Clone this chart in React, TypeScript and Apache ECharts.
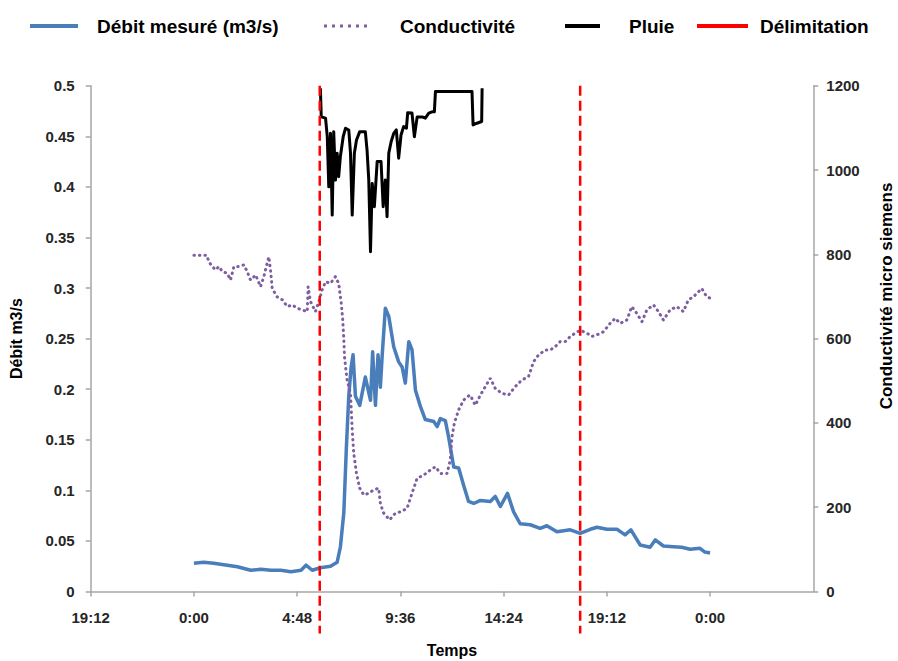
import React, { useEffect, useRef } from "react";
import * as echarts from "echarts";

// Time in hours from 0:00 of the first day
const xTickLabels = ["19:12", "0:00", "4:48", "9:36", "14:24", "19:12", "0:00", "4:48"];

const debit: [number, number][] = [
  [0.0, 0.028], [0.45, 0.029], [0.92, 0.028], [1.55, 0.026], [2.02, 0.0245], [2.64, 0.021],
  [3.11, 0.022], [3.58, 0.021], [4.04, 0.021], [4.51, 0.0196], [4.98, 0.021], [5.21, 0.026],
  [5.5, 0.021], [5.88, 0.0235], [6.35, 0.025], [6.66, 0.029], [6.81, 0.044], [6.97, 0.078],
  [7.09, 0.143], [7.2, 0.193], [7.31, 0.222], [7.4, 0.234], [7.51, 0.193], [7.71, 0.184],
  [7.97, 0.212], [8.21, 0.189], [8.31, 0.237], [8.44, 0.184], [8.56, 0.234], [8.67, 0.202],
  [8.75, 0.232], [8.9, 0.28], [9.06, 0.272], [9.29, 0.242], [9.52, 0.227], [9.68, 0.222],
  [9.83, 0.206], [9.99, 0.247], [10.14, 0.239], [10.3, 0.199], [10.53, 0.183], [10.76, 0.17],
  [11.15, 0.168], [11.31, 0.163], [11.46, 0.171], [11.69, 0.169], [11.84, 0.153], [12.08, 0.123],
  [12.31, 0.122], [12.54, 0.105], [12.77, 0.089], [13.01, 0.087], [13.32, 0.09], [13.78, 0.089],
  [14.01, 0.094], [14.25, 0.084], [14.58, 0.097], [14.86, 0.079], [15.17, 0.067], [15.64, 0.066],
  [16.1, 0.0625], [16.41, 0.065], [16.88, 0.059], [17.5, 0.061], [17.96, 0.0575], [18.43, 0.0615],
  [18.74, 0.0635], [19.2, 0.0615], [19.67, 0.0615], [20.05, 0.056], [20.32, 0.061], [20.75, 0.046],
  [21.21, 0.0437], [21.45, 0.051], [21.83, 0.045], [22.29, 0.0443], [22.68, 0.0437], [23.07, 0.0417],
  [23.53, 0.0427], [23.76, 0.039], [24.0, 0.038],
];

const conductivite: [number, number][] = [
  [0.0, 798], [0.59, 798], [0.7, 782], [0.85, 771], [1.01, 763], [1.16, 771], [1.32, 759],
  [1.55, 755], [1.7, 739], [1.86, 771], [2.09, 771], [2.32, 775], [2.48, 759], [2.63, 739],
  [2.87, 751], [3.1, 723], [3.25, 747], [3.48, 794], [3.56, 763], [3.64, 719], [3.87, 699],
  [4.11, 692], [4.34, 676], [4.57, 680], [4.8, 672], [5.03, 668], [5.27, 664], [5.31, 723],
  [5.42, 688], [5.65, 664], [5.81, 688], [5.96, 715], [6.12, 735], [6.35, 731], [6.58, 747],
  [6.73, 731], [6.85, 684], [6.92, 644], [6.97, 597], [7.0, 557], [7.12, 502], [7.28, 470],
  [7.36, 383], [7.43, 328], [7.56, 280], [7.71, 245], [7.9, 229], [8.13, 233], [8.36, 241],
  [8.59, 245], [8.67, 209], [8.82, 186], [9.1, 170], [9.37, 186], [9.6, 189], [9.91, 197],
  [10.14, 233], [10.38, 269], [10.68, 276], [10.99, 288], [11.23, 296], [11.46, 280], [11.77, 280],
  [11.92, 312], [12.0, 367], [12.11, 400], [12.31, 431], [12.54, 454], [12.7, 462], [12.85, 466],
  [13.08, 442], [13.32, 466], [13.55, 486], [13.78, 506], [14.01, 482], [14.32, 470], [14.63, 466],
  [14.94, 486], [15.25, 502], [15.56, 510], [15.79, 545], [16.02, 561], [16.34, 573], [16.57, 573],
  [16.8, 581], [17.03, 593], [17.27, 593], [17.5, 605], [17.73, 613], [17.96, 620], [18.27, 613],
  [18.5, 605], [18.74, 609], [19.04, 616], [19.35, 636], [19.59, 648], [19.82, 636], [20.13, 644],
  [20.36, 676], [20.59, 660], [20.83, 640], [21.06, 668], [21.37, 680], [21.6, 664], [21.83, 644],
  [22.14, 668], [22.45, 676], [22.76, 664], [22.99, 692], [23.22, 699], [23.46, 711], [23.61, 719],
  [23.85, 699], [24.0, 696],
];

const pluie: [number, number][] = [
  [5.88, 1194], [5.92, 1126], [6.12, 1123], [6.2, 1079], [6.27, 960], [6.35, 1087], [6.43, 893],
  [6.5, 1091], [6.58, 976], [6.66, 1040], [6.73, 984], [6.81, 1032], [6.94, 1079], [7.05, 1099],
  [7.2, 1095], [7.28, 1040], [7.36, 893], [7.46, 1040], [7.56, 1071], [7.71, 1091], [7.97, 1091],
  [8.05, 1047], [8.13, 976], [8.21, 806], [8.29, 968], [8.39, 913], [8.52, 1020], [8.7, 1020],
  [8.8, 913], [8.9, 976], [8.98, 889], [9.06, 1040], [9.17, 1067], [9.29, 1087], [9.41, 1095],
  [9.52, 1028], [9.63, 1083], [9.75, 1103], [9.88, 1099], [9.94, 1136], [10.14, 1135], [10.25, 1079],
  [10.38, 1126], [10.61, 1126], [10.76, 1123], [10.92, 1135], [11.07, 1138], [11.18, 1138],
  [11.23, 1186], [12.93, 1186], [12.98, 1107], [13.16, 1111], [13.38, 1115], [13.4, 1194],
];

const delimitationTimes = [5.85, 17.96];

export default function App() {
  const ref = useRef<HTMLDivElement>(null);
  useEffect(() => {
    if (!ref.current) return;
    const chart = echarts.init(ref.current, undefined, { renderer: "svg" });
    const font = "Liberation Sans";
    const axisGray = "#a6a6a6";
    const labelColor = "#262626";
    const delimData: any[] = [];
    delimitationTimes.forEach((t, i) => {
      if (i > 0) delimData.push([t, null]);
      delimData.push([t, 1]);
      delimData.push([t, -0.083]);
    });
    const legendBase = {
      top: 15,
      padding: 0,
      itemGap: 0,
      selectedMode: false,
    };
    const legendText = (pad: number) => ({
      fontFamily: font,
      fontWeight: "bold",
      fontSize: 19,
      color: "#000",
      lineHeight: 22,
      padding: [0, 0, 0, pad],
    });
    const dots = "path://M0,0h3v3h-3z M8,0h3v3h-3z M16,0h3v3h-3z M24,0h3v3h-3z M32,0h3v3h-3z M40,0h3v3h-3z";
    chart.setOption({
      animation: false,
      backgroundColor: "#fff",
      legend: [
        { ...legendBase, left: 30, data: ["Débit mesuré (m3/s)"], icon: "rect", itemWidth: 48, itemHeight: 4, textStyle: legendText(14) },
        { ...legendBase, left: 324, data: ["Conductivité"], icon: dots, itemWidth: 43, itemHeight: 3, textStyle: legendText(28) },
        { ...legendBase, left: 565, data: ["Pluie"], icon: "rect", itemWidth: 35, itemHeight: 4, textStyle: legendText(24) },
        { ...legendBase, left: 697, data: ["Délimitation"], icon: "rect", itemWidth: 51, itemHeight: 4, textStyle: legendText(7) },
      ],
      grid: { left: 90.7, right: 84.7, top: 85.7, bottom: 69.5, outerBoundsMode: "none" },
      xAxis: {
        type: "value",
        min: -4.8,
        max: 28.8,
        interval: 4.8,
        name: "Temps",
        nameLocation: "middle",
        nameGap: 51,
        nameTextStyle: { fontFamily: font, fontWeight: "bold", fontSize: 16, color: "#000" },
        axisLine: { show: true, onZero: false, lineStyle: { color: axisGray, width: 1.5 } },
        axisTick: { show: true, length: 5, lineStyle: { color: axisGray, width: 1.5 } },
        splitLine: { show: false },
        axisLabel: {
          showMaxLabel: false,
          margin: 18,
          fontFamily: font,
          fontWeight: "bold",
          fontSize: 15,
          color: labelColor,
          formatter: (v: number) => xTickLabels[Math.round((v + 4.8) / 4.8)] ?? "",
        },
      },
      yAxis: [
        {
          type: "value",
          min: 0,
          max: 0.5,
          interval: 0.05,
          name: "Débit m3/s",
          nameLocation: "middle",
          nameGap: 66,
          nameTextStyle: { fontFamily: font, fontWeight: "bold", fontSize: 16, color: "#000" },
          axisLine: { show: true, onZero: false, lineStyle: { color: axisGray, width: 1.5 } },
          axisTick: { show: true, length: 5, lineStyle: { color: axisGray, width: 1.5 } },
          splitLine: { show: false },
          axisLabel: {
            margin: 16,
            fontFamily: font,
            fontWeight: "bold",
            fontSize: 15,
            color: labelColor,
            formatter: (v: number) => String(parseFloat(v.toFixed(2))),
          },
        },
        {
          type: "value",
          min: 0,
          max: 1200,
          interval: 200,
          position: "right",
          axisLine: { show: true, onZero: false, lineStyle: { color: axisGray, width: 1.5 } },
          axisTick: { show: true, length: 5, lineStyle: { color: axisGray, width: 1.5 } },
          splitLine: { show: false },
          axisLabel: {
            margin: 13,
            fontFamily: font,
            fontWeight: "bold",
            fontSize: 15,
            color: labelColor,
            formatter: (v: number) => String(Math.round(v)),
          },
        },
        { type: "value", min: 0, max: 1, show: false, axisLine: { onZero: false } },
      ],
      graphic: [
        {
          type: "text",
          x: 886,
          y: 296,
          rotation: Math.PI / 2,
          style: {
            text: "Conductivité micro siemens",
            fontFamily: font,
            fontWeight: "bold",
            fontSize: 17,
            fill: "#000",
            align: "center",
            verticalAlign: "middle",
          },
        },
      ],
      series: [
        {
          name: "Débit mesuré (m3/s)",
          type: "line",
          yAxisIndex: 0,
          data: debit,
          symbol: "none",
          color: "#4a7ebb",
          lineStyle: { width: 3.5, color: "#4a7ebb", join: "round" },
          z: 2,
        },
        {
          name: "Conductivité",
          type: "line",
          yAxisIndex: 1,
          data: conductivite,
          symbol: "none",
          color: "#7d5fa0",
          lineStyle: { width: 3, color: "#7d5fa0", type: [0.5, 5], cap: "round" },
          z: 3,
        },
        {
          name: "Pluie",
          type: "line",
          yAxisIndex: 1,
          data: pluie,
          symbol: "none",
          color: "#000000",
          lineStyle: { width: 3, color: "#000000", join: "round" },
          z: 4,
        },
        {
          name: "Délimitation",
          type: "line",
          yAxisIndex: 2,
          data: delimData,
          connectNulls: false,
          clip: false,
          symbol: "none",
          color: "#ff0000",
          lineStyle: { width: 2.5, color: "#ff0000", type: [10, 5] },
          z: 5,
        },
      ],
    });
    return () => chart.dispose();
  }, []);
  return (
    <div
      ref={ref}
      style={{ position: "fixed", left: 0, top: 0, width: 898, height: 661, background: "#fff" }}
    />
  );
}
